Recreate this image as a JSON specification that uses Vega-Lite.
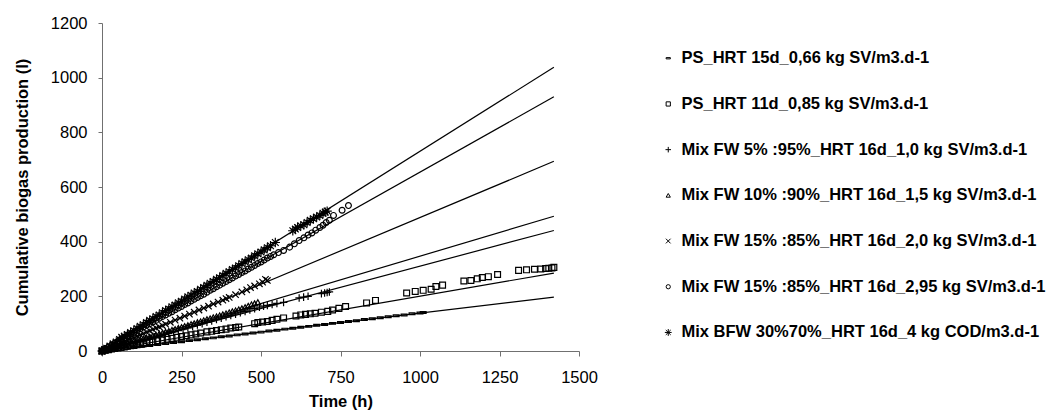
{
  "$schema": "https://vega.github.io/schema/vega-lite/v6.json",
  "width": 477,
  "height": 328,
  "autosize": {"type": "none"},
  "padding": {"left": 102, "top": 23, "right": 470, "bottom": 63},
  "background": "white",
  "config": {
    "view": {"stroke": null},
    "font": "Liberation Sans",
    "axis": {
      "grid": false,
      "labelFlush": false,
      "labelOverlap": false,
      "domainColor": "#707070",
      "tickColor": "#707070",
      "labelColor": "black",
      "titleColor": "black",
      "labelFont": "Liberation Sans",
      "titleFont": "Liberation Sans",
      "labelFontSize": 16.5,
      "titleFontSize": 16.5,
      "titleFontWeight": "bold",
      "format": "d"
    }
  },
  "datasets": {
    "fits": [
      {"s": "S1", "t": 0, "v": 0}, {"s": "S1", "t": 1421, "v": 197},
      {"s": "S2", "t": 0, "v": 0}, {"s": "S2", "t": 1421, "v": 285},
      {"s": "S3", "t": 0, "v": 0}, {"s": "S3", "t": 1421, "v": 441},
      {"s": "S4", "t": 0, "v": 0}, {"s": "S4", "t": 1421, "v": 493},
      {"s": "S5", "t": 0, "v": 0}, {"s": "S5", "t": 1421, "v": 694},
      {"s": "S6", "t": 0, "v": 0}, {"s": "S6", "t": 1421, "v": 930},
      {"s": "S7", "t": 0, "v": 0}, {"s": "S7", "t": 1421, "v": 1038}
    ],
    "obs": [
      {"s":"S1","t":0,"v":0},{"s":"S1","t":25,"v":3},{"s":"S1","t":50,"v":6},{"s":"S1","t":75,"v":10},{"s":"S1","t":100,"v":13},{"s":"S1","t":125,"v":17},{"s":"S1","t":150,"v":20},{"s":"S1","t":175,"v":24},{"s":"S1","t":200,"v":27},{"s":"S1","t":225,"v":31},{"s":"S1","t":250,"v":34},{"s":"S1","t":275,"v":38},{"s":"S1","t":300,"v":41},{"s":"S1","t":325,"v":45},{"s":"S1","t":350,"v":48},{"s":"S1","t":375,"v":52},{"s":"S1","t":400,"v":55},{"s":"S1","t":425,"v":59},{"s":"S1","t":450,"v":62},{"s":"S1","t":475,"v":66},{"s":"S1","t":500,"v":69},{"s":"S1","t":525,"v":73},{"s":"S1","t":550,"v":76},{"s":"S1","t":575,"v":80},{"s":"S1","t":600,"v":83},{"s":"S1","t":625,"v":87},{"s":"S1","t":650,"v":90},{"s":"S1","t":675,"v":94},{"s":"S1","t":700,"v":97},{"s":"S1","t":725,"v":101},{"s":"S1","t":750,"v":104},{"s":"S1","t":775,"v":108},{"s":"S1","t":800,"v":111},{"s":"S1","t":825,"v":115},{"s":"S1","t":850,"v":118},{"s":"S1","t":875,"v":122},{"s":"S1","t":900,"v":125},{"s":"S1","t":925,"v":129},{"s":"S1","t":950,"v":132},{"s":"S1","t":975,"v":136},{"s":"S1","t":1000,"v":139},{"s":"S1","t":1010,"v":141},
      {"s":"S2","t":0,"v":0},{"s":"S2","t":10,"v":3},{"s":"S2","t":20,"v":5},{"s":"S2","t":30,"v":7},{"s":"S2","t":40,"v":9},{"s":"S2","t":50,"v":11},{"s":"S2","t":60,"v":13},{"s":"S2","t":70,"v":15},{"s":"S2","t":80,"v":17},{"s":"S2","t":90,"v":19},{"s":"S2","t":100,"v":21},{"s":"S2","t":110,"v":23},{"s":"S2","t":120,"v":25},{"s":"S2","t":130,"v":27},{"s":"S2","t":140,"v":30},{"s":"S2","t":150,"v":32},{"s":"S2","t":160,"v":34},{"s":"S2","t":175,"v":37},{"s":"S2","t":190,"v":40},{"s":"S2","t":205,"v":43},{"s":"S2","t":220,"v":46},{"s":"S2","t":235,"v":50},{"s":"S2","t":250,"v":53},{"s":"S2","t":265,"v":56},{"s":"S2","t":280,"v":59},{"s":"S2","t":295,"v":62},{"s":"S2","t":310,"v":66},{"s":"S2","t":330,"v":70},{"s":"S2","t":345,"v":72},{"s":"S2","t":360,"v":75},{"s":"S2","t":375,"v":78},{"s":"S2","t":390,"v":80},{"s":"S2","t":405,"v":84},{"s":"S2","t":420,"v":86},{"s":"S2","t":430,"v":88},{"s":"S2","t":480,"v":100},{"s":"S2","t":490,"v":104},{"s":"S2","t":505,"v":106},{"s":"S2","t":520,"v":108},{"s":"S2","t":535,"v":112},{"s":"S2","t":550,"v":116},{"s":"S2","t":571,"v":121},{"s":"S2","t":610,"v":128},{"s":"S2","t":625,"v":132},{"s":"S2","t":640,"v":134},{"s":"S2","t":655,"v":136},{"s":"S2","t":670,"v":138},{"s":"S2","t":690,"v":142},{"s":"S2","t":710,"v":145},{"s":"S2","t":725,"v":150},{"s":"S2","t":745,"v":156},{"s":"S2","t":766,"v":163},{"s":"S2","t":832,"v":176},{"s":"S2","t":860,"v":185},{"s":"S2","t":958,"v":212},{"s":"S2","t":985,"v":218},{"s":"S2","t":1010,"v":222},{"s":"S2","t":1035,"v":226},{"s":"S2","t":1050,"v":236},{"s":"S2","t":1071,"v":241},{"s":"S2","t":1138,"v":256},{"s":"S2","t":1160,"v":258},{"s":"S2","t":1180,"v":264},{"s":"S2","t":1196,"v":269},{"s":"S2","t":1215,"v":272},{"s":"S2","t":1244,"v":280},{"s":"S2","t":1310,"v":295},{"s":"S2","t":1335,"v":297},{"s":"S2","t":1360,"v":299},{"s":"S2","t":1380,"v":300},{"s":"S2","t":1395,"v":302},{"s":"S2","t":1405,"v":303},{"s":"S2","t":1415,"v":304},{"s":"S2","t":1421,"v":306},
      {"s":"S3","t":0,"v":0},{"s":"S3","t":15,"v":5},{"s":"S3","t":30,"v":9},{"s":"S3","t":45,"v":14},{"s":"S3","t":60,"v":19},{"s":"S3","t":75,"v":24},{"s":"S3","t":90,"v":28},{"s":"S3","t":105,"v":33},{"s":"S3","t":120,"v":38},{"s":"S3","t":135,"v":42},{"s":"S3","t":150,"v":47},{"s":"S3","t":165,"v":52},{"s":"S3","t":180,"v":57},{"s":"S3","t":195,"v":61},{"s":"S3","t":210,"v":66},{"s":"S3","t":225,"v":71},{"s":"S3","t":240,"v":76},{"s":"S3","t":255,"v":80},{"s":"S3","t":270,"v":85},{"s":"S3","t":285,"v":90},{"s":"S3","t":300,"v":95},{"s":"S3","t":315,"v":100},{"s":"S3","t":330,"v":105},{"s":"S3","t":345,"v":110},{"s":"S3","t":360,"v":115},{"s":"S3","t":375,"v":120},{"s":"S3","t":390,"v":125},{"s":"S3","t":405,"v":130},{"s":"S3","t":420,"v":135},{"s":"S3","t":435,"v":140},{"s":"S3","t":450,"v":145},{"s":"S3","t":465,"v":150},{"s":"S3","t":480,"v":155},{"s":"S3","t":495,"v":160},{"s":"S3","t":508,"v":164},{"s":"S3","t":520,"v":167},{"s":"S3","t":535,"v":170},{"s":"S3","t":550,"v":174},{"s":"S3","t":571,"v":178},{"s":"S3","t":620,"v":194},{"s":"S3","t":634,"v":197},{"s":"S3","t":648,"v":200},{"s":"S3","t":690,"v":210},{"s":"S3","t":700,"v":212},{"s":"S3","t":708,"v":214},{"s":"S3","t":715,"v":216},
      {"s":"S4","t":0,"v":0},{"s":"S4","t":10,"v":3},{"s":"S4","t":20,"v":7},{"s":"S4","t":30,"v":10},{"s":"S4","t":40,"v":14},{"s":"S4","t":50,"v":17},{"s":"S4","t":60,"v":21},{"s":"S4","t":70,"v":24},{"s":"S4","t":80,"v":28},{"s":"S4","t":90,"v":31},{"s":"S4","t":100,"v":35},{"s":"S4","t":110,"v":38},{"s":"S4","t":120,"v":42},{"s":"S4","t":130,"v":45},{"s":"S4","t":140,"v":49},{"s":"S4","t":150,"v":52},{"s":"S4","t":160,"v":56},{"s":"S4","t":170,"v":59},{"s":"S4","t":180,"v":63},{"s":"S4","t":190,"v":66},{"s":"S4","t":200,"v":70},{"s":"S4","t":210,"v":73},{"s":"S4","t":220,"v":77},{"s":"S4","t":230,"v":80},{"s":"S4","t":240,"v":84},{"s":"S4","t":250,"v":87},{"s":"S4","t":260,"v":91},{"s":"S4","t":270,"v":94},{"s":"S4","t":280,"v":98},{"s":"S4","t":290,"v":101},{"s":"S4","t":300,"v":105},{"s":"S4","t":310,"v":108},{"s":"S4","t":320,"v":112},{"s":"S4","t":330,"v":116},{"s":"S4","t":340,"v":119},{"s":"S4","t":350,"v":123},{"s":"S4","t":360,"v":126},{"s":"S4","t":370,"v":130},{"s":"S4","t":380,"v":134},{"s":"S4","t":390,"v":137},{"s":"S4","t":400,"v":141},{"s":"S4","t":410,"v":145},{"s":"S4","t":420,"v":148},{"s":"S4","t":430,"v":152},{"s":"S4","t":440,"v":156},{"s":"S4","t":450,"v":160},{"s":"S4","t":460,"v":165},{"s":"S4","t":470,"v":170},{"s":"S4","t":480,"v":174},{"s":"S4","t":490,"v":178},
      {"s":"S5","t":0,"v":0},{"s":"S5","t":10,"v":4},{"s":"S5","t":20,"v":9},{"s":"S5","t":30,"v":14},{"s":"S5","t":40,"v":19},{"s":"S5","t":50,"v":24},{"s":"S5","t":60,"v":29},{"s":"S5","t":70,"v":34},{"s":"S5","t":80,"v":39},{"s":"S5","t":90,"v":44},{"s":"S5","t":100,"v":49},{"s":"S5","t":110,"v":54},{"s":"S5","t":120,"v":59},{"s":"S5","t":130,"v":64},{"s":"S5","t":140,"v":69},{"s":"S5","t":150,"v":74},{"s":"S5","t":160,"v":79},{"s":"S5","t":170,"v":84},{"s":"S5","t":180,"v":88},{"s":"S5","t":190,"v":93},{"s":"S5","t":200,"v":98},{"s":"S5","t":215,"v":105},{"s":"S5","t":230,"v":113},{"s":"S5","t":245,"v":120},{"s":"S5","t":260,"v":128},{"s":"S5","t":275,"v":135},{"s":"S5","t":290,"v":142},{"s":"S5","t":305,"v":150},{"s":"S5","t":320,"v":157},{"s":"S5","t":335,"v":164},{"s":"S5","t":350,"v":172},{"s":"S5","t":365,"v":179},{"s":"S5","t":380,"v":186},{"s":"S5","t":390,"v":192},{"s":"S5","t":400,"v":196},{"s":"S5","t":420,"v":206},{"s":"S5","t":440,"v":216},{"s":"S5","t":455,"v":224},{"s":"S5","t":467,"v":232},{"s":"S5","t":480,"v":238},{"s":"S5","t":495,"v":246},{"s":"S5","t":505,"v":252},{"s":"S5","t":514,"v":262},{"s":"S5","t":520,"v":258},
      {"s":"S6","t":0,"v":0},{"s":"S6","t":10,"v":8},{"s":"S6","t":20,"v":14},{"s":"S6","t":30,"v":21},{"s":"S6","t":40,"v":28},{"s":"S6","t":50,"v":35},{"s":"S6","t":60,"v":42},{"s":"S6","t":70,"v":48},{"s":"S6","t":80,"v":55},{"s":"S6","t":90,"v":62},{"s":"S6","t":100,"v":68},{"s":"S6","t":110,"v":75},{"s":"S6","t":120,"v":81},{"s":"S6","t":130,"v":88},{"s":"S6","t":140,"v":94},{"s":"S6","t":150,"v":100},{"s":"S6","t":160,"v":106},{"s":"S6","t":170,"v":112},{"s":"S6","t":180,"v":120},{"s":"S6","t":190,"v":126},{"s":"S6","t":200,"v":132},{"s":"S6","t":210,"v":138},{"s":"S6","t":220,"v":144},{"s":"S6","t":230,"v":151},{"s":"S6","t":240,"v":157},{"s":"S6","t":250,"v":163},{"s":"S6","t":260,"v":170},{"s":"S6","t":270,"v":176},{"s":"S6","t":280,"v":183},{"s":"S6","t":290,"v":189},{"s":"S6","t":300,"v":196},{"s":"S6","t":310,"v":202},{"s":"S6","t":320,"v":208},{"s":"S6","t":330,"v":215},{"s":"S6","t":340,"v":222},{"s":"S6","t":350,"v":228},{"s":"S6","t":360,"v":235},{"s":"S6","t":370,"v":241},{"s":"S6","t":380,"v":248},{"s":"S6","t":390,"v":254},{"s":"S6","t":400,"v":261},{"s":"S6","t":410,"v":267},{"s":"S6","t":420,"v":274},{"s":"S6","t":430,"v":280},{"s":"S6","t":440,"v":287},{"s":"S6","t":450,"v":293},{"s":"S6","t":460,"v":300},{"s":"S6","t":470,"v":306},{"s":"S6","t":480,"v":313},{"s":"S6","t":490,"v":320},{"s":"S6","t":500,"v":326},{"s":"S6","t":510,"v":333},{"s":"S6","t":520,"v":340},{"s":"S6","t":530,"v":346},{"s":"S6","t":540,"v":352},{"s":"S6","t":555,"v":360},{"s":"S6","t":571,"v":368},{"s":"S6","t":590,"v":380},{"s":"S6","t":605,"v":392},{"s":"S6","t":620,"v":404},{"s":"S6","t":635,"v":414},{"s":"S6","t":648,"v":424},{"s":"S6","t":660,"v":432},{"s":"S6","t":672,"v":442},{"s":"S6","t":685,"v":452},{"s":"S6","t":695,"v":460},{"s":"S6","t":705,"v":470},{"s":"S6","t":715,"v":478},{"s":"S6","t":728,"v":496},{"s":"S6","t":755,"v":515},{"s":"S6","t":775,"v":532},
      {"s":"S7","t":0,"v":0},{"s":"S7","t":8,"v":5},{"s":"S7","t":15,"v":10},{"s":"S7","t":25,"v":18},{"s":"S7","t":35,"v":26},{"s":"S7","t":45,"v":33},{"s":"S7","t":55,"v":42},{"s":"S7","t":62,"v":50},{"s":"S7","t":70,"v":54},{"s":"S7","t":80,"v":60},{"s":"S7","t":90,"v":68},{"s":"S7","t":100,"v":74},{"s":"S7","t":110,"v":82},{"s":"S7","t":120,"v":90},{"s":"S7","t":130,"v":96},{"s":"S7","t":140,"v":104},{"s":"S7","t":150,"v":112},{"s":"S7","t":160,"v":118},{"s":"S7","t":170,"v":126},{"s":"S7","t":180,"v":132},{"s":"S7","t":190,"v":140},{"s":"S7","t":200,"v":148},{"s":"S7","t":210,"v":154},{"s":"S7","t":220,"v":162},{"s":"S7","t":230,"v":168},{"s":"S7","t":240,"v":176},{"s":"S7","t":250,"v":182},{"s":"S7","t":260,"v":190},{"s":"S7","t":270,"v":198},{"s":"S7","t":280,"v":204},{"s":"S7","t":290,"v":212},{"s":"S7","t":300,"v":218},{"s":"S7","t":310,"v":226},{"s":"S7","t":320,"v":232},{"s":"S7","t":330,"v":240},{"s":"S7","t":340,"v":248},{"s":"S7","t":350,"v":254},{"s":"S7","t":360,"v":262},{"s":"S7","t":370,"v":268},{"s":"S7","t":380,"v":276},{"s":"S7","t":390,"v":284},{"s":"S7","t":400,"v":290},{"s":"S7","t":410,"v":298},{"s":"S7","t":420,"v":304},{"s":"S7","t":430,"v":312},{"s":"S7","t":440,"v":320},{"s":"S7","t":450,"v":326},{"s":"S7","t":460,"v":334},{"s":"S7","t":470,"v":340},{"s":"S7","t":480,"v":348},{"s":"S7","t":490,"v":356},{"s":"S7","t":500,"v":362},{"s":"S7","t":510,"v":370},{"s":"S7","t":520,"v":378},{"s":"S7","t":530,"v":385},{"s":"S7","t":545,"v":397},{"s":"S7","t":600,"v":440},{"s":"S7","t":608,"v":446},{"s":"S7","t":615,"v":452},{"s":"S7","t":625,"v":458},{"s":"S7","t":635,"v":462},{"s":"S7","t":645,"v":470},{"s":"S7","t":655,"v":478},{"s":"S7","t":665,"v":484},{"s":"S7","t":675,"v":490},{"s":"S7","t":685,"v":496},{"s":"S7","t":695,"v":504},{"s":"S7","t":702,"v":508},{"s":"S7","t":708,"v":512}
    ]
  },
  "layer": [
    {
      "data": {"name": "fits"},
      "mark": {"type": "line", "color": "black", "strokeWidth": 1.2},
      "encoding": {
        "x": {
          "field": "t", "type": "quantitative",
          "scale": {"domain": [0, 1500], "nice": false},
          "axis": {"title": "Time (h)", "values": [0, 250, 500, 750, 1000, 1250, 1500], "tickSize": 5, "labelPadding": 13, "titlePadding": 8}
        },
        "y": {
          "field": "v", "type": "quantitative",
          "scale": {"domain": [0, 1200], "nice": false},
          "axis": {"title": "Cumulative biogas production (l)", "values": [0, 200, 400, 600, 800, 1000, 1200], "tickSize": 4, "labelPadding": 11, "titlePadding": 20}
        },
        "detail": {"field": "s", "type": "nominal"}
      }
    },
    {
      "data": {"name": "obs"},
      "mark": {"type": "point", "filled": false, "color": "black", "size": 34, "strokeWidth": 1.2, "opacity": 1},
      "encoding": {
        "x": {"field": "t", "type": "quantitative"},
        "y": {"field": "v", "type": "quantitative"},
        "shape": {
          "field": "s", "type": "nominal",
          "scale": {
            "domain": ["S1", "S2", "S3", "S4", "S5", "S6", "S7"],
            "range": [
              "M-1,-0.3H1V0.3H-1Z",
              "square",
              "M-1.3,0H1.3M0,-1.3V1.3",
              "triangle-up",
              "M-1.1,-1.1L1.1,1.1M-1.1,1.1L1.1,-1.1",
              "circle",
              "M-1.6,0H1.6M0,-1.6V1.6M-1.15,-1.15L1.15,1.15M-1.15,1.15L1.15,-1.15"
            ]
          },
          "legend": {
            "title": null,
            "orient": "none",
            "legendX": 558,
            "legendY": 27,
            "padding": 0,
            "symbolSize": 18,
            "symbolStrokeColor": "black",
            "symbolStrokeWidth": 1,
            "labelFont": "Liberation Sans",
            "labelFontSize": 16.5,
            "labelFontWeight": "bold",
            "labelColor": "black",
            "labelLimit": 0,
            "labelOffset": 5,
            "rowPadding": 28.7,
            "labelExpr": "({'S1':'PS_HRT 15d_0,66 kg SV/m3.d-1','S2':'PS_HRT 11d_0,85 kg SV/m3.d-1','S3':' Mix FW 5% :95%_HRT 16d_1,0 kg SV/m3.d-1','S4':'Mix FW 10% :90%_HRT 16d_1,5 kg SV/m3.d-1','S5':'Mix FW 15% :85%_HRT 16d_2,0 kg SV/m3.d-1','S6':'Mix FW 15% :85%_HRT 16d_2,95 kg SV/m3.d-1','S7':'Mix BFW 30%70%_HRT 16d_4 kg COD/m3.d-1'})[datum.label]"
          }
        }
      }
    }
  ]
}
